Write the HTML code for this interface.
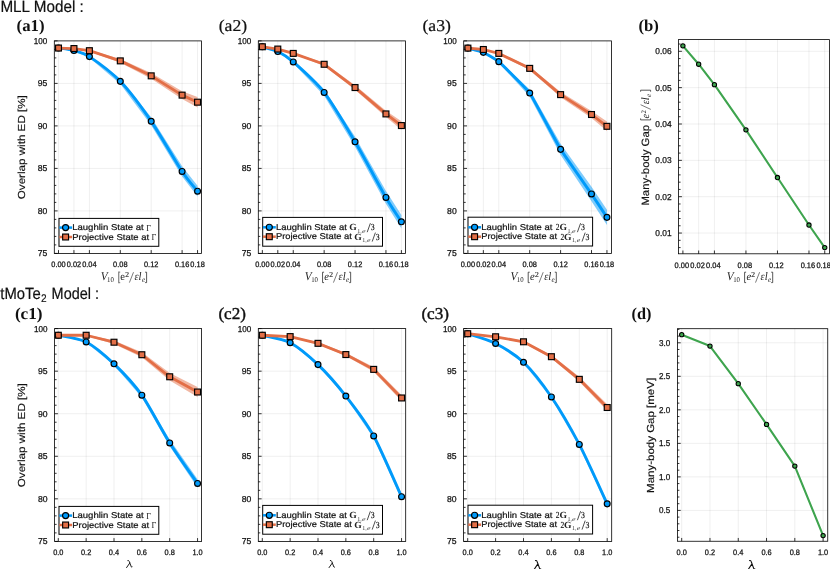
<!DOCTYPE html>
<html><head><meta charset="utf-8"><title>Figure</title>
<style>html,body{margin:0;padding:0;background:#fff}svg{display:block;will-change:transform}text{font-kerning:normal;text-rendering:geometricPrecision}</style></head>
<body>
<svg width="830" height="569" viewBox="0 0 830 569">
<rect width="830" height="569" fill="#fff"/>
<g>
<clipPath id="cpa1"><rect x="54.3" y="40.9" width="147.2" height="212.5"/></clipPath>
<path d="M58.5,40.9 V253.4 M73.95,40.9 V253.4 M89.4,40.9 V253.4 M120.3,40.9 V253.4 M151.2,40.9 V253.4 M182.1,40.9 V253.4 M197.55,40.9 V253.4 M54.3,210.9 H201.5 M54.3,168.4 H201.5 M54.3,125.9 H201.5 M54.3,83.4 H201.5" stroke="#000" stroke-opacity="0.075" stroke-width="0.85" fill="none"/>
<g clip-path="url(#cpa1)">
<polygon points="58.5,48.04 73.95,50.1 89.4,55.6 120.3,78.78 151.2,117.37 182.1,166.36 197.55,185.74 197.55,196.62 182.1,176.56 151.2,125.25 120.3,83.94 89.4,57.65 73.95,50.91 58.5,48.04" fill="#009AFA" fill-opacity="0.5"/>
<path d="M58.5,48.04 C60.56,48.37 69.83,49.36 73.95,50.5 C78.07,51.65 83.22,52.51 89.4,56.62 C95.58,60.74 112.06,72.74 120.3,81.36 C128.54,89.98 142.96,109.3 151.2,121.31 C159.44,133.32 175.92,162.14 182.1,171.46 C188.28,180.78 195.49,188.55 197.55,191.18" fill="none" stroke="#009AFA" stroke-width="2.9" stroke-linejoin="round"/>
<polygon points="58.5,48.04 73.95,48.13 89.4,49.83 120.3,59 151.2,73.03 182.1,91.22 197.55,96.91 197.55,107.45 182.1,99.04 151.2,78.64 120.3,62.74 89.4,51.53 73.95,48.98 58.5,48.04" fill="#E36F47" fill-opacity="0.5"/>
<polyline points="58.5,48.04 73.95,48.55 89.4,50.68 120.3,60.87 151.2,75.84 182.1,95.13 197.55,102.18" fill="none" stroke="#E36F47" stroke-width="2.8" stroke-linejoin="round" stroke-linecap="butt"/>
</g>
<g clip-path="url(#cpa1)">
<circle cx="58.5" cy="48.04" r="2.95" fill="#009AFA" stroke="#000" stroke-width="1.15"/>
<circle cx="73.95" cy="50.5" r="2.95" fill="#009AFA" stroke="#000" stroke-width="1.15"/>
<circle cx="89.4" cy="56.62" r="2.95" fill="#009AFA" stroke="#000" stroke-width="1.15"/>
<circle cx="120.3" cy="81.36" r="2.95" fill="#009AFA" stroke="#000" stroke-width="1.15"/>
<circle cx="151.2" cy="121.31" r="2.95" fill="#009AFA" stroke="#000" stroke-width="1.15"/>
<circle cx="182.1" cy="171.46" r="2.95" fill="#009AFA" stroke="#000" stroke-width="1.15"/>
<circle cx="197.55" cy="191.18" r="2.95" fill="#009AFA" stroke="#000" stroke-width="1.15"/>
<rect x="55.55" y="45.09" width="5.9" height="5.9" fill="#E36F47" stroke="#000" stroke-width="1.15"/>
<rect x="71" y="45.6" width="5.9" height="5.9" fill="#E36F47" stroke="#000" stroke-width="1.15"/>
<rect x="86.45" y="47.73" width="5.9" height="5.9" fill="#E36F47" stroke="#000" stroke-width="1.15"/>
<rect x="117.35" y="57.92" width="5.9" height="5.9" fill="#E36F47" stroke="#000" stroke-width="1.15"/>
<rect x="148.25" y="72.89" width="5.9" height="5.9" fill="#E36F47" stroke="#000" stroke-width="1.15"/>
<rect x="179.15" y="92.18" width="5.9" height="5.9" fill="#E36F47" stroke="#000" stroke-width="1.15"/>
<rect x="194.6" y="99.23" width="5.9" height="5.9" fill="#E36F47" stroke="#000" stroke-width="1.15"/>
</g>
<path d="M58.5,253.4 V250.1 M73.95,253.4 V250.1 M89.4,253.4 V250.1 M120.3,253.4 V250.1 M151.2,253.4 V250.1 M182.1,253.4 V250.1 M197.55,253.4 V250.1 M54.3,253.4 H57.6 M54.3,210.9 H57.6 M54.3,168.4 H57.6 M54.3,125.9 H57.6 M54.3,83.4 H57.6 M54.3,40.9 H57.6 M54.3,244.9 H56.3 M54.3,236.4 H56.3 M54.3,227.9 H56.3 M54.3,219.4 H56.3 M54.3,202.4 H56.3 M54.3,193.9 H56.3 M54.3,185.4 H56.3 M54.3,176.9 H56.3 M54.3,159.9 H56.3 M54.3,151.4 H56.3 M54.3,142.9 H56.3 M54.3,134.4 H56.3 M54.3,117.4 H56.3 M54.3,108.9 H56.3 M54.3,100.4 H56.3 M54.3,91.9 H56.3 M54.3,74.9 H56.3 M54.3,66.4 H56.3 M54.3,57.9 H56.3 M54.3,49.4 H56.3" stroke="#000" stroke-width="0.8" fill="none"/>
<rect x="54.3" y="40.9" width="147.2" height="212.5" fill="none" stroke="#000" stroke-width="0.8"/>
<text x="58.5" y="267.4" font-family="Liberation Sans, sans-serif" font-size="7.9" text-anchor="middle" textLength="14.4" lengthAdjust="spacingAndGlyphs" fill="#111" stroke="#111" stroke-width="0.25">0.00</text>
<text x="73.95" y="267.4" font-family="Liberation Sans, sans-serif" font-size="7.9" text-anchor="middle" textLength="14.4" lengthAdjust="spacingAndGlyphs" fill="#111" stroke="#111" stroke-width="0.25">0.02</text>
<text x="89.4" y="267.4" font-family="Liberation Sans, sans-serif" font-size="7.9" text-anchor="middle" textLength="14.4" lengthAdjust="spacingAndGlyphs" fill="#111" stroke="#111" stroke-width="0.25">0.04</text>
<text x="120.3" y="267.4" font-family="Liberation Sans, sans-serif" font-size="7.9" text-anchor="middle" textLength="14.4" lengthAdjust="spacingAndGlyphs" fill="#111" stroke="#111" stroke-width="0.25">0.08</text>
<text x="151.2" y="267.4" font-family="Liberation Sans, sans-serif" font-size="7.9" text-anchor="middle" textLength="14.4" lengthAdjust="spacingAndGlyphs" fill="#111" stroke="#111" stroke-width="0.25">0.12</text>
<text x="182.1" y="267.4" font-family="Liberation Sans, sans-serif" font-size="7.9" text-anchor="middle" textLength="14.4" lengthAdjust="spacingAndGlyphs" fill="#111" stroke="#111" stroke-width="0.25">0.16</text>
<text x="197.55" y="267.4" font-family="Liberation Sans, sans-serif" font-size="7.9" text-anchor="middle" textLength="14.4" lengthAdjust="spacingAndGlyphs" fill="#111" stroke="#111" stroke-width="0.25">0.18</text>
<text x="47.3" y="256.3" font-family="Liberation Sans, sans-serif" font-size="8.6" text-anchor="end" textLength="9.6" lengthAdjust="spacingAndGlyphs" fill="#111" stroke="#111" stroke-width="0.25">75</text>
<text x="47.3" y="213.8" font-family="Liberation Sans, sans-serif" font-size="8.6" text-anchor="end" textLength="9.6" lengthAdjust="spacingAndGlyphs" fill="#111" stroke="#111" stroke-width="0.25">80</text>
<text x="47.3" y="171.3" font-family="Liberation Sans, sans-serif" font-size="8.6" text-anchor="end" textLength="9.6" lengthAdjust="spacingAndGlyphs" fill="#111" stroke="#111" stroke-width="0.25">85</text>
<text x="47.3" y="128.8" font-family="Liberation Sans, sans-serif" font-size="8.6" text-anchor="end" textLength="9.6" lengthAdjust="spacingAndGlyphs" fill="#111" stroke="#111" stroke-width="0.25">90</text>
<text x="47.3" y="86.3" font-family="Liberation Sans, sans-serif" font-size="8.6" text-anchor="end" textLength="9.6" lengthAdjust="spacingAndGlyphs" fill="#111" stroke="#111" stroke-width="0.25">95</text>
<text x="47.3" y="43.8" font-family="Liberation Sans, sans-serif" font-size="8.6" text-anchor="end" textLength="13.5" lengthAdjust="spacingAndGlyphs" fill="#111" stroke="#111" stroke-width="0.25">100</text>
</g>
<g>
<clipPath id="cpa2"><rect x="258.3" y="40.9" width="147.3" height="212.5"/></clipPath>
<path d="M262.35,40.9 V253.4 M277.8,40.9 V253.4 M293.25,40.9 V253.4 M324.15,40.9 V253.4 M355.05,40.9 V253.4 M385.95,40.9 V253.4 M401.4,40.9 V253.4 M258.3,210.9 H405.6 M258.3,168.4 H405.6 M258.3,125.9 H405.6 M258.3,83.4 H405.6" stroke="#000" stroke-opacity="0.075" stroke-width="0.85" fill="none"/>
<g clip-path="url(#cpa2)">
<polygon points="262.35,46.76 277.8,51.01 293.25,60.62 324.15,89.18 355.05,136.87 385.95,191.1 401.4,214.98 401.4,228.58 385.95,203.85 355.05,146.73 324.15,95.64 293.25,63.17 277.8,52.04 262.35,46.76" fill="#009AFA" fill-opacity="0.5"/>
<path d="M262.35,46.76 C264.41,47.4 273.68,49.51 277.8,51.53 C281.92,53.54 287.07,56.44 293.25,61.9 C299.43,67.35 315.91,81.76 324.15,92.41 C332.39,103.06 346.81,127.79 355.05,141.8 C363.29,155.8 379.77,186.81 385.95,197.47 C392.13,208.13 399.34,218.54 401.4,221.78" fill="none" stroke="#009AFA" stroke-width="2.9" stroke-linejoin="round"/>
<polygon points="262.35,46.76 277.8,48.72 293.25,52.72 324.15,62.78 355.05,85.32 385.95,110.79 401.4,121.34 401.4,129.78 385.95,117.04 355.05,89.81 324.15,65.77 293.25,54.07 277.8,49.4 262.35,46.76" fill="#E36F47" fill-opacity="0.5"/>
<polyline points="262.35,46.76 277.8,49.06 293.25,53.4 324.15,64.28 355.05,87.56 385.95,113.92 401.4,125.56" fill="none" stroke="#E36F47" stroke-width="2.8" stroke-linejoin="round" stroke-linecap="butt"/>
</g>
<g clip-path="url(#cpa2)">
<circle cx="262.35" cy="46.76" r="2.95" fill="#009AFA" stroke="#000" stroke-width="1.15"/>
<circle cx="277.8" cy="51.53" r="2.95" fill="#009AFA" stroke="#000" stroke-width="1.15"/>
<circle cx="293.25" cy="61.9" r="2.95" fill="#009AFA" stroke="#000" stroke-width="1.15"/>
<circle cx="324.15" cy="92.41" r="2.95" fill="#009AFA" stroke="#000" stroke-width="1.15"/>
<circle cx="355.05" cy="141.8" r="2.95" fill="#009AFA" stroke="#000" stroke-width="1.15"/>
<circle cx="385.95" cy="197.47" r="2.95" fill="#009AFA" stroke="#000" stroke-width="1.15"/>
<circle cx="401.4" cy="221.78" r="2.95" fill="#009AFA" stroke="#000" stroke-width="1.15"/>
<rect x="259.4" y="43.81" width="5.9" height="5.9" fill="#E36F47" stroke="#000" stroke-width="1.15"/>
<rect x="274.85" y="46.11" width="5.9" height="5.9" fill="#E36F47" stroke="#000" stroke-width="1.15"/>
<rect x="290.3" y="50.45" width="5.9" height="5.9" fill="#E36F47" stroke="#000" stroke-width="1.15"/>
<rect x="321.2" y="61.33" width="5.9" height="5.9" fill="#E36F47" stroke="#000" stroke-width="1.15"/>
<rect x="352.1" y="84.61" width="5.9" height="5.9" fill="#E36F47" stroke="#000" stroke-width="1.15"/>
<rect x="383" y="110.97" width="5.9" height="5.9" fill="#E36F47" stroke="#000" stroke-width="1.15"/>
<rect x="398.45" y="122.61" width="5.9" height="5.9" fill="#E36F47" stroke="#000" stroke-width="1.15"/>
</g>
<path d="M262.35,253.4 V250.1 M277.8,253.4 V250.1 M293.25,253.4 V250.1 M324.15,253.4 V250.1 M355.05,253.4 V250.1 M385.95,253.4 V250.1 M401.4,253.4 V250.1 M258.3,253.4 H261.6 M258.3,210.9 H261.6 M258.3,168.4 H261.6 M258.3,125.9 H261.6 M258.3,83.4 H261.6 M258.3,40.9 H261.6 M258.3,244.9 H260.3 M258.3,236.4 H260.3 M258.3,227.9 H260.3 M258.3,219.4 H260.3 M258.3,202.4 H260.3 M258.3,193.9 H260.3 M258.3,185.4 H260.3 M258.3,176.9 H260.3 M258.3,159.9 H260.3 M258.3,151.4 H260.3 M258.3,142.9 H260.3 M258.3,134.4 H260.3 M258.3,117.4 H260.3 M258.3,108.9 H260.3 M258.3,100.4 H260.3 M258.3,91.9 H260.3 M258.3,74.9 H260.3 M258.3,66.4 H260.3 M258.3,57.9 H260.3 M258.3,49.4 H260.3" stroke="#000" stroke-width="0.8" fill="none"/>
<rect x="258.3" y="40.9" width="147.3" height="212.5" fill="none" stroke="#000" stroke-width="0.8"/>
<text x="262.35" y="267.4" font-family="Liberation Sans, sans-serif" font-size="7.9" text-anchor="middle" textLength="14.4" lengthAdjust="spacingAndGlyphs" fill="#111" stroke="#111" stroke-width="0.25">0.00</text>
<text x="277.8" y="267.4" font-family="Liberation Sans, sans-serif" font-size="7.9" text-anchor="middle" textLength="14.4" lengthAdjust="spacingAndGlyphs" fill="#111" stroke="#111" stroke-width="0.25">0.02</text>
<text x="293.25" y="267.4" font-family="Liberation Sans, sans-serif" font-size="7.9" text-anchor="middle" textLength="14.4" lengthAdjust="spacingAndGlyphs" fill="#111" stroke="#111" stroke-width="0.25">0.04</text>
<text x="324.15" y="267.4" font-family="Liberation Sans, sans-serif" font-size="7.9" text-anchor="middle" textLength="14.4" lengthAdjust="spacingAndGlyphs" fill="#111" stroke="#111" stroke-width="0.25">0.08</text>
<text x="355.05" y="267.4" font-family="Liberation Sans, sans-serif" font-size="7.9" text-anchor="middle" textLength="14.4" lengthAdjust="spacingAndGlyphs" fill="#111" stroke="#111" stroke-width="0.25">0.12</text>
<text x="385.95" y="267.4" font-family="Liberation Sans, sans-serif" font-size="7.9" text-anchor="middle" textLength="14.4" lengthAdjust="spacingAndGlyphs" fill="#111" stroke="#111" stroke-width="0.25">0.16</text>
<text x="401.4" y="267.4" font-family="Liberation Sans, sans-serif" font-size="7.9" text-anchor="middle" textLength="14.4" lengthAdjust="spacingAndGlyphs" fill="#111" stroke="#111" stroke-width="0.25">0.18</text>
<text x="251.3" y="256.3" font-family="Liberation Sans, sans-serif" font-size="8.6" text-anchor="end" textLength="9.6" lengthAdjust="spacingAndGlyphs" fill="#111" stroke="#111" stroke-width="0.25">75</text>
<text x="251.3" y="213.8" font-family="Liberation Sans, sans-serif" font-size="8.6" text-anchor="end" textLength="9.6" lengthAdjust="spacingAndGlyphs" fill="#111" stroke="#111" stroke-width="0.25">80</text>
<text x="251.3" y="171.3" font-family="Liberation Sans, sans-serif" font-size="8.6" text-anchor="end" textLength="9.6" lengthAdjust="spacingAndGlyphs" fill="#111" stroke="#111" stroke-width="0.25">85</text>
<text x="251.3" y="128.8" font-family="Liberation Sans, sans-serif" font-size="8.6" text-anchor="end" textLength="9.6" lengthAdjust="spacingAndGlyphs" fill="#111" stroke="#111" stroke-width="0.25">90</text>
<text x="251.3" y="86.3" font-family="Liberation Sans, sans-serif" font-size="8.6" text-anchor="end" textLength="9.6" lengthAdjust="spacingAndGlyphs" fill="#111" stroke="#111" stroke-width="0.25">95</text>
<text x="251.3" y="43.8" font-family="Liberation Sans, sans-serif" font-size="8.6" text-anchor="end" textLength="13.5" lengthAdjust="spacingAndGlyphs" fill="#111" stroke="#111" stroke-width="0.25">100</text>
</g>
<g>
<clipPath id="cpa3"><rect x="463.7" y="40.9" width="147.8" height="212.5"/></clipPath>
<path d="M467.9,40.9 V253.4 M483.35,40.9 V253.4 M498.8,40.9 V253.4 M529.7,40.9 V253.4 M560.6,40.9 V253.4 M591.5,40.9 V253.4 M606.95,40.9 V253.4 M463.7,210.9 H611.5 M463.7,168.4 H611.5 M463.7,125.9 H611.5 M463.7,83.4 H611.5" stroke="#000" stroke-opacity="0.075" stroke-width="0.85" fill="none"/>
<g clip-path="url(#cpa3)">
<polygon points="467.9,48.12 483.35,51.8 498.8,60.21 529.7,89.39 560.6,143.84 591.5,186.85 606.95,209.74 606.95,224.98 591.5,201.13 560.6,154.88 529.7,96.62 498.8,63.07 483.35,52.95 467.9,48.12" fill="#009AFA" fill-opacity="0.5"/>
<path d="M467.9,48.12 C468.67,48.34 481.8,51.7 483.35,52.37 C484.89,53.05 496.48,59.61 498.8,61.64 C501.12,63.67 526.61,88.62 529.7,93 C532.79,97.39 557.51,144.31 560.6,149.36 C563.69,154.41 589.18,190.59 591.5,193.99 C593.82,197.39 606.18,216.19 606.95,217.36" fill="none" stroke="#009AFA" stroke-width="2.9" stroke-linejoin="round"/>
<polygon points="467.9,48.12 483.35,49.1 498.8,52.63 529.7,66.67 560.6,92.1 591.5,110.99 606.95,121.58 606.95,131.07 591.5,118.03 560.6,97.14 529.7,70.04 498.8,54.16 483.35,49.87 467.9,48.12" fill="#E36F47" fill-opacity="0.5"/>
<polyline points="467.9,48.12 483.35,49.49 498.8,53.4 529.7,68.36 560.6,94.62 591.5,114.51 606.95,126.32" fill="none" stroke="#E36F47" stroke-width="2.8" stroke-linejoin="round" stroke-linecap="butt"/>
</g>
<g clip-path="url(#cpa3)">
<circle cx="467.9" cy="48.12" r="2.95" fill="#009AFA" stroke="#000" stroke-width="1.15"/>
<circle cx="483.35" cy="52.37" r="2.95" fill="#009AFA" stroke="#000" stroke-width="1.15"/>
<circle cx="498.8" cy="61.64" r="2.95" fill="#009AFA" stroke="#000" stroke-width="1.15"/>
<circle cx="529.7" cy="93" r="2.95" fill="#009AFA" stroke="#000" stroke-width="1.15"/>
<circle cx="560.6" cy="149.36" r="2.95" fill="#009AFA" stroke="#000" stroke-width="1.15"/>
<circle cx="591.5" cy="193.99" r="2.95" fill="#009AFA" stroke="#000" stroke-width="1.15"/>
<circle cx="606.95" cy="217.36" r="2.95" fill="#009AFA" stroke="#000" stroke-width="1.15"/>
<rect x="464.95" y="45.17" width="5.9" height="5.9" fill="#E36F47" stroke="#000" stroke-width="1.15"/>
<rect x="480.4" y="46.54" width="5.9" height="5.9" fill="#E36F47" stroke="#000" stroke-width="1.15"/>
<rect x="495.85" y="50.45" width="5.9" height="5.9" fill="#E36F47" stroke="#000" stroke-width="1.15"/>
<rect x="526.75" y="65.41" width="5.9" height="5.9" fill="#E36F47" stroke="#000" stroke-width="1.15"/>
<rect x="557.65" y="91.67" width="5.9" height="5.9" fill="#E36F47" stroke="#000" stroke-width="1.15"/>
<rect x="588.55" y="111.56" width="5.9" height="5.9" fill="#E36F47" stroke="#000" stroke-width="1.15"/>
<rect x="604" y="123.37" width="5.9" height="5.9" fill="#E36F47" stroke="#000" stroke-width="1.15"/>
</g>
<path d="M467.9,253.4 V250.1 M483.35,253.4 V250.1 M498.8,253.4 V250.1 M529.7,253.4 V250.1 M560.6,253.4 V250.1 M591.5,253.4 V250.1 M606.95,253.4 V250.1 M463.7,253.4 H467 M463.7,210.9 H467 M463.7,168.4 H467 M463.7,125.9 H467 M463.7,83.4 H467 M463.7,40.9 H467 M463.7,244.9 H465.7 M463.7,236.4 H465.7 M463.7,227.9 H465.7 M463.7,219.4 H465.7 M463.7,202.4 H465.7 M463.7,193.9 H465.7 M463.7,185.4 H465.7 M463.7,176.9 H465.7 M463.7,159.9 H465.7 M463.7,151.4 H465.7 M463.7,142.9 H465.7 M463.7,134.4 H465.7 M463.7,117.4 H465.7 M463.7,108.9 H465.7 M463.7,100.4 H465.7 M463.7,91.9 H465.7 M463.7,74.9 H465.7 M463.7,66.4 H465.7 M463.7,57.9 H465.7 M463.7,49.4 H465.7" stroke="#000" stroke-width="0.8" fill="none"/>
<rect x="463.7" y="40.9" width="147.8" height="212.5" fill="none" stroke="#000" stroke-width="0.8"/>
<text x="467.9" y="267.4" font-family="Liberation Sans, sans-serif" font-size="7.9" text-anchor="middle" textLength="14.4" lengthAdjust="spacingAndGlyphs" fill="#111" stroke="#111" stroke-width="0.25">0.00</text>
<text x="483.35" y="267.4" font-family="Liberation Sans, sans-serif" font-size="7.9" text-anchor="middle" textLength="14.4" lengthAdjust="spacingAndGlyphs" fill="#111" stroke="#111" stroke-width="0.25">0.02</text>
<text x="498.8" y="267.4" font-family="Liberation Sans, sans-serif" font-size="7.9" text-anchor="middle" textLength="14.4" lengthAdjust="spacingAndGlyphs" fill="#111" stroke="#111" stroke-width="0.25">0.04</text>
<text x="529.7" y="267.4" font-family="Liberation Sans, sans-serif" font-size="7.9" text-anchor="middle" textLength="14.4" lengthAdjust="spacingAndGlyphs" fill="#111" stroke="#111" stroke-width="0.25">0.08</text>
<text x="560.6" y="267.4" font-family="Liberation Sans, sans-serif" font-size="7.9" text-anchor="middle" textLength="14.4" lengthAdjust="spacingAndGlyphs" fill="#111" stroke="#111" stroke-width="0.25">0.12</text>
<text x="591.5" y="267.4" font-family="Liberation Sans, sans-serif" font-size="7.9" text-anchor="middle" textLength="14.4" lengthAdjust="spacingAndGlyphs" fill="#111" stroke="#111" stroke-width="0.25">0.16</text>
<text x="606.95" y="267.4" font-family="Liberation Sans, sans-serif" font-size="7.9" text-anchor="middle" textLength="14.4" lengthAdjust="spacingAndGlyphs" fill="#111" stroke="#111" stroke-width="0.25">0.18</text>
<text x="456.7" y="256.3" font-family="Liberation Sans, sans-serif" font-size="8.6" text-anchor="end" textLength="9.6" lengthAdjust="spacingAndGlyphs" fill="#111" stroke="#111" stroke-width="0.25">75</text>
<text x="456.7" y="213.8" font-family="Liberation Sans, sans-serif" font-size="8.6" text-anchor="end" textLength="9.6" lengthAdjust="spacingAndGlyphs" fill="#111" stroke="#111" stroke-width="0.25">80</text>
<text x="456.7" y="171.3" font-family="Liberation Sans, sans-serif" font-size="8.6" text-anchor="end" textLength="9.6" lengthAdjust="spacingAndGlyphs" fill="#111" stroke="#111" stroke-width="0.25">85</text>
<text x="456.7" y="128.8" font-family="Liberation Sans, sans-serif" font-size="8.6" text-anchor="end" textLength="9.6" lengthAdjust="spacingAndGlyphs" fill="#111" stroke="#111" stroke-width="0.25">90</text>
<text x="456.7" y="86.3" font-family="Liberation Sans, sans-serif" font-size="8.6" text-anchor="end" textLength="9.6" lengthAdjust="spacingAndGlyphs" fill="#111" stroke="#111" stroke-width="0.25">95</text>
<text x="456.7" y="43.8" font-family="Liberation Sans, sans-serif" font-size="8.6" text-anchor="end" textLength="13.5" lengthAdjust="spacingAndGlyphs" fill="#111" stroke="#111" stroke-width="0.25">100</text>
</g>
<g>
<clipPath id="cpc1"><rect x="54.6" y="328.6" width="147" height="212.8"/></clipPath>
<path d="M58.3,328.6 V541.4 M86.15,328.6 V541.4 M114,328.6 V541.4 M141.85,328.6 V541.4 M169.7,328.6 V541.4 M197.55,328.6 V541.4 M54.6,498.84 H201.6 M54.6,456.28 H201.6 M54.6,413.72 H201.6 M54.6,371.16 H201.6" stroke="#000" stroke-opacity="0.075" stroke-width="0.85" fill="none"/>
<g clip-path="url(#cpc1)">
<polygon points="58.3,335.24 86.15,341.5 114,362.46 141.85,392.87 169.7,439.47 197.55,479.22 197.55,487.65 169.7,446.36 141.85,397.46 114,365.22 86.15,342.42 58.3,335.24" fill="#009AFA" fill-opacity="0.5"/>
<path d="M58.3,335.24 C62.01,336.14 78.72,338.15 86.15,341.96 C93.58,345.78 106.57,356.75 114,363.84 C121.43,370.93 134.42,384.62 141.85,395.16 C149.28,405.71 162.27,431.15 169.7,442.92 C177.13,454.69 193.84,478.03 197.55,483.43" fill="none" stroke="#009AFA" stroke-width="2.9" stroke-linejoin="round"/>
<polygon points="58.3,335.24 86.15,334.56 114,340.52 141.85,352.18 169.7,372.95 197.55,386.91 197.55,397.12 169.7,380.61 141.85,357.29 114,343.92 86.15,335.92 58.3,335.24" fill="#E36F47" fill-opacity="0.5"/>
<polyline points="58.3,335.24 86.15,335.24 114,342.22 141.85,354.73 169.7,376.78 197.55,392.01" fill="none" stroke="#E36F47" stroke-width="2.8" stroke-linejoin="round" stroke-linecap="butt"/>
</g>
<g clip-path="url(#cpc1)">
<circle cx="58.3" cy="335.24" r="2.95" fill="#009AFA" stroke="#000" stroke-width="1.15"/>
<circle cx="86.15" cy="341.96" r="2.95" fill="#009AFA" stroke="#000" stroke-width="1.15"/>
<circle cx="114" cy="363.84" r="2.95" fill="#009AFA" stroke="#000" stroke-width="1.15"/>
<circle cx="141.85" cy="395.16" r="2.95" fill="#009AFA" stroke="#000" stroke-width="1.15"/>
<circle cx="169.7" cy="442.92" r="2.95" fill="#009AFA" stroke="#000" stroke-width="1.15"/>
<circle cx="197.55" cy="483.43" r="2.95" fill="#009AFA" stroke="#000" stroke-width="1.15"/>
<rect x="55.35" y="332.29" width="5.9" height="5.9" fill="#E36F47" stroke="#000" stroke-width="1.15"/>
<rect x="83.2" y="332.29" width="5.9" height="5.9" fill="#E36F47" stroke="#000" stroke-width="1.15"/>
<rect x="111.05" y="339.27" width="5.9" height="5.9" fill="#E36F47" stroke="#000" stroke-width="1.15"/>
<rect x="138.9" y="351.78" width="5.9" height="5.9" fill="#E36F47" stroke="#000" stroke-width="1.15"/>
<rect x="166.75" y="373.83" width="5.9" height="5.9" fill="#E36F47" stroke="#000" stroke-width="1.15"/>
<rect x="194.6" y="389.06" width="5.9" height="5.9" fill="#E36F47" stroke="#000" stroke-width="1.15"/>
</g>
<path d="M58.3,541.4 V538.1 M86.15,541.4 V538.1 M114,541.4 V538.1 M141.85,541.4 V538.1 M169.7,541.4 V538.1 M197.55,541.4 V538.1 M54.6,541.4 H57.9 M54.6,498.84 H57.9 M54.6,456.28 H57.9 M54.6,413.72 H57.9 M54.6,371.16 H57.9 M54.6,328.6 H57.9 M54.6,532.89 H56.6 M54.6,524.38 H56.6 M54.6,515.86 H56.6 M54.6,507.35 H56.6 M54.6,490.33 H56.6 M54.6,481.82 H56.6 M54.6,473.3 H56.6 M54.6,464.79 H56.6 M54.6,447.77 H56.6 M54.6,439.26 H56.6 M54.6,430.74 H56.6 M54.6,422.23 H56.6 M54.6,405.21 H56.6 M54.6,396.7 H56.6 M54.6,388.18 H56.6 M54.6,379.67 H56.6 M54.6,362.65 H56.6 M54.6,354.14 H56.6 M54.6,345.62 H56.6 M54.6,337.11 H56.6" stroke="#000" stroke-width="0.8" fill="none"/>
<rect x="54.6" y="328.6" width="147" height="212.8" fill="none" stroke="#000" stroke-width="0.8"/>
<text x="58.3" y="555.4" font-family="Liberation Sans, sans-serif" font-size="7.9" text-anchor="middle" textLength="10.3" lengthAdjust="spacingAndGlyphs" fill="#111" stroke="#111" stroke-width="0.25">0.0</text>
<text x="86.15" y="555.4" font-family="Liberation Sans, sans-serif" font-size="7.9" text-anchor="middle" textLength="10.3" lengthAdjust="spacingAndGlyphs" fill="#111" stroke="#111" stroke-width="0.25">0.2</text>
<text x="114" y="555.4" font-family="Liberation Sans, sans-serif" font-size="7.9" text-anchor="middle" textLength="10.3" lengthAdjust="spacingAndGlyphs" fill="#111" stroke="#111" stroke-width="0.25">0.4</text>
<text x="141.85" y="555.4" font-family="Liberation Sans, sans-serif" font-size="7.9" text-anchor="middle" textLength="10.3" lengthAdjust="spacingAndGlyphs" fill="#111" stroke="#111" stroke-width="0.25">0.6</text>
<text x="169.7" y="555.4" font-family="Liberation Sans, sans-serif" font-size="7.9" text-anchor="middle" textLength="10.3" lengthAdjust="spacingAndGlyphs" fill="#111" stroke="#111" stroke-width="0.25">0.8</text>
<text x="197.55" y="555.4" font-family="Liberation Sans, sans-serif" font-size="7.9" text-anchor="middle" textLength="10.3" lengthAdjust="spacingAndGlyphs" fill="#111" stroke="#111" stroke-width="0.25">1.0</text>
<text x="47.6" y="544.3" font-family="Liberation Sans, sans-serif" font-size="8.6" text-anchor="end" textLength="9.6" lengthAdjust="spacingAndGlyphs" fill="#111" stroke="#111" stroke-width="0.25">75</text>
<text x="47.6" y="501.74" font-family="Liberation Sans, sans-serif" font-size="8.6" text-anchor="end" textLength="9.6" lengthAdjust="spacingAndGlyphs" fill="#111" stroke="#111" stroke-width="0.25">80</text>
<text x="47.6" y="459.18" font-family="Liberation Sans, sans-serif" font-size="8.6" text-anchor="end" textLength="9.6" lengthAdjust="spacingAndGlyphs" fill="#111" stroke="#111" stroke-width="0.25">85</text>
<text x="47.6" y="416.62" font-family="Liberation Sans, sans-serif" font-size="8.6" text-anchor="end" textLength="9.6" lengthAdjust="spacingAndGlyphs" fill="#111" stroke="#111" stroke-width="0.25">90</text>
<text x="47.6" y="374.06" font-family="Liberation Sans, sans-serif" font-size="8.6" text-anchor="end" textLength="9.6" lengthAdjust="spacingAndGlyphs" fill="#111" stroke="#111" stroke-width="0.25">95</text>
<text x="47.6" y="331.5" font-family="Liberation Sans, sans-serif" font-size="8.6" text-anchor="end" textLength="13.5" lengthAdjust="spacingAndGlyphs" fill="#111" stroke="#111" stroke-width="0.25">100</text>
</g>
<g>
<clipPath id="cpc2"><rect x="258.3" y="328.6" width="147.4" height="212.8"/></clipPath>
<path d="M262.3,328.6 V541.4 M290.15,328.6 V541.4 M318,328.6 V541.4 M345.85,328.6 V541.4 M373.7,328.6 V541.4 M401.55,328.6 V541.4 M258.3,498.84 H405.7 M258.3,456.28 H405.7 M258.3,413.72 H405.7 M258.3,371.16 H405.7" stroke="#000" stroke-opacity="0.075" stroke-width="0.85" fill="none"/>
<g clip-path="url(#cpc2)">
<polygon points="262.3,335.24 290.15,342.42 318,363.69 345.85,394.48 373.7,433.64 401.55,493.9 401.55,499.52 373.7,438.23 345.85,397.55 318,365.53 290.15,343.04 262.3,335.24" fill="#009AFA" fill-opacity="0.5"/>
<path d="M262.3,335.24 C266.01,336.24 282.72,338.81 290.15,342.73 C297.58,346.65 310.57,357.5 318,364.61 C325.43,371.71 338.42,386.5 345.85,396.02 C353.28,405.53 366.27,422.51 373.7,435.94 C381.13,449.36 397.84,488.61 401.55,496.71" fill="none" stroke="#009AFA" stroke-width="2.9" stroke-linejoin="round"/>
<polygon points="262.3,335.24 290.15,336.19 318,342.3 345.85,353.03 373.7,367.07 401.55,394.91 401.55,401.04 373.7,371.67 345.85,356.09 318,344.35 290.15,337.01 262.3,335.24" fill="#E36F47" fill-opacity="0.5"/>
<polyline points="262.3,335.24 290.15,336.6 318,343.33 345.85,354.56 373.7,369.37 401.55,397.97" fill="none" stroke="#E36F47" stroke-width="2.8" stroke-linejoin="round" stroke-linecap="butt"/>
</g>
<g clip-path="url(#cpc2)">
<circle cx="262.3" cy="335.24" r="2.95" fill="#009AFA" stroke="#000" stroke-width="1.15"/>
<circle cx="290.15" cy="342.73" r="2.95" fill="#009AFA" stroke="#000" stroke-width="1.15"/>
<circle cx="318" cy="364.61" r="2.95" fill="#009AFA" stroke="#000" stroke-width="1.15"/>
<circle cx="345.85" cy="396.02" r="2.95" fill="#009AFA" stroke="#000" stroke-width="1.15"/>
<circle cx="373.7" cy="435.94" r="2.95" fill="#009AFA" stroke="#000" stroke-width="1.15"/>
<circle cx="401.55" cy="496.71" r="2.95" fill="#009AFA" stroke="#000" stroke-width="1.15"/>
<rect x="259.35" y="332.29" width="5.9" height="5.9" fill="#E36F47" stroke="#000" stroke-width="1.15"/>
<rect x="287.2" y="333.65" width="5.9" height="5.9" fill="#E36F47" stroke="#000" stroke-width="1.15"/>
<rect x="315.05" y="340.38" width="5.9" height="5.9" fill="#E36F47" stroke="#000" stroke-width="1.15"/>
<rect x="342.9" y="351.61" width="5.9" height="5.9" fill="#E36F47" stroke="#000" stroke-width="1.15"/>
<rect x="370.75" y="366.42" width="5.9" height="5.9" fill="#E36F47" stroke="#000" stroke-width="1.15"/>
<rect x="398.6" y="395.02" width="5.9" height="5.9" fill="#E36F47" stroke="#000" stroke-width="1.15"/>
</g>
<path d="M262.3,541.4 V538.1 M290.15,541.4 V538.1 M318,541.4 V538.1 M345.85,541.4 V538.1 M373.7,541.4 V538.1 M401.55,541.4 V538.1 M258.3,541.4 H261.6 M258.3,498.84 H261.6 M258.3,456.28 H261.6 M258.3,413.72 H261.6 M258.3,371.16 H261.6 M258.3,328.6 H261.6 M258.3,532.89 H260.3 M258.3,524.38 H260.3 M258.3,515.86 H260.3 M258.3,507.35 H260.3 M258.3,490.33 H260.3 M258.3,481.82 H260.3 M258.3,473.3 H260.3 M258.3,464.79 H260.3 M258.3,447.77 H260.3 M258.3,439.26 H260.3 M258.3,430.74 H260.3 M258.3,422.23 H260.3 M258.3,405.21 H260.3 M258.3,396.7 H260.3 M258.3,388.18 H260.3 M258.3,379.67 H260.3 M258.3,362.65 H260.3 M258.3,354.14 H260.3 M258.3,345.62 H260.3 M258.3,337.11 H260.3" stroke="#000" stroke-width="0.8" fill="none"/>
<rect x="258.3" y="328.6" width="147.4" height="212.8" fill="none" stroke="#000" stroke-width="0.8"/>
<text x="262.3" y="555.4" font-family="Liberation Sans, sans-serif" font-size="7.9" text-anchor="middle" textLength="10.3" lengthAdjust="spacingAndGlyphs" fill="#111" stroke="#111" stroke-width="0.25">0.0</text>
<text x="290.15" y="555.4" font-family="Liberation Sans, sans-serif" font-size="7.9" text-anchor="middle" textLength="10.3" lengthAdjust="spacingAndGlyphs" fill="#111" stroke="#111" stroke-width="0.25">0.2</text>
<text x="318" y="555.4" font-family="Liberation Sans, sans-serif" font-size="7.9" text-anchor="middle" textLength="10.3" lengthAdjust="spacingAndGlyphs" fill="#111" stroke="#111" stroke-width="0.25">0.4</text>
<text x="345.85" y="555.4" font-family="Liberation Sans, sans-serif" font-size="7.9" text-anchor="middle" textLength="10.3" lengthAdjust="spacingAndGlyphs" fill="#111" stroke="#111" stroke-width="0.25">0.6</text>
<text x="373.7" y="555.4" font-family="Liberation Sans, sans-serif" font-size="7.9" text-anchor="middle" textLength="10.3" lengthAdjust="spacingAndGlyphs" fill="#111" stroke="#111" stroke-width="0.25">0.8</text>
<text x="401.55" y="555.4" font-family="Liberation Sans, sans-serif" font-size="7.9" text-anchor="middle" textLength="10.3" lengthAdjust="spacingAndGlyphs" fill="#111" stroke="#111" stroke-width="0.25">1.0</text>
<text x="251.3" y="544.3" font-family="Liberation Sans, sans-serif" font-size="8.6" text-anchor="end" textLength="9.6" lengthAdjust="spacingAndGlyphs" fill="#111" stroke="#111" stroke-width="0.25">75</text>
<text x="251.3" y="501.74" font-family="Liberation Sans, sans-serif" font-size="8.6" text-anchor="end" textLength="9.6" lengthAdjust="spacingAndGlyphs" fill="#111" stroke="#111" stroke-width="0.25">80</text>
<text x="251.3" y="459.18" font-family="Liberation Sans, sans-serif" font-size="8.6" text-anchor="end" textLength="9.6" lengthAdjust="spacingAndGlyphs" fill="#111" stroke="#111" stroke-width="0.25">85</text>
<text x="251.3" y="416.62" font-family="Liberation Sans, sans-serif" font-size="8.6" text-anchor="end" textLength="9.6" lengthAdjust="spacingAndGlyphs" fill="#111" stroke="#111" stroke-width="0.25">90</text>
<text x="251.3" y="374.06" font-family="Liberation Sans, sans-serif" font-size="8.6" text-anchor="end" textLength="9.6" lengthAdjust="spacingAndGlyphs" fill="#111" stroke="#111" stroke-width="0.25">95</text>
<text x="251.3" y="331.5" font-family="Liberation Sans, sans-serif" font-size="8.6" text-anchor="end" textLength="13.5" lengthAdjust="spacingAndGlyphs" fill="#111" stroke="#111" stroke-width="0.25">100</text>
</g>
<g>
<clipPath id="cpc3"><rect x="463.6" y="328.6" width="148.1" height="212.8"/></clipPath>
<path d="M467.7,328.6 V541.4 M495.6,328.6 V541.4 M523.5,328.6 V541.4 M551.4,328.6 V541.4 M579.3,328.6 V541.4 M607.2,328.6 V541.4 M463.6,498.84 H611.7 M463.6,456.28 H611.7 M463.6,413.72 H611.7 M463.6,371.16 H611.7" stroke="#000" stroke-opacity="0.075" stroke-width="0.85" fill="none"/>
<g clip-path="url(#cpc3)">
<polygon points="467.7,333.71 495.6,343.19 523.5,361.39 551.4,395.42 579.3,442.15 607.2,501.05 607.2,506.67 579.3,446.75 551.4,398.48 523.5,363.23 495.6,343.8 467.7,333.71" fill="#009AFA" fill-opacity="0.5"/>
<path d="M467.7,333.71 C471.42,335.01 488.16,339.68 495.6,343.5 C503.04,347.31 516.06,355.18 523.5,362.31 C530.94,369.43 543.96,386 551.4,396.95 C558.84,407.9 571.86,430.19 579.3,444.45 C586.74,458.7 603.48,495.94 607.2,503.86" fill="none" stroke="#009AFA" stroke-width="2.9" stroke-linejoin="round"/>
<polygon points="467.7,333.71 495.6,336.33 523.5,340.69 551.4,355.03 579.3,376.84 607.2,404.19 607.2,410.83 579.3,381.82 551.4,358.35 523.5,342.9 495.6,337.21 467.7,333.71" fill="#E36F47" fill-opacity="0.5"/>
<polyline points="467.7,333.71 495.6,336.77 523.5,341.79 551.4,356.69 579.3,379.33 607.2,407.51" fill="none" stroke="#E36F47" stroke-width="2.8" stroke-linejoin="round" stroke-linecap="butt"/>
</g>
<g clip-path="url(#cpc3)">
<circle cx="467.7" cy="333.71" r="2.95" fill="#009AFA" stroke="#000" stroke-width="1.15"/>
<circle cx="495.6" cy="343.5" r="2.95" fill="#009AFA" stroke="#000" stroke-width="1.15"/>
<circle cx="523.5" cy="362.31" r="2.95" fill="#009AFA" stroke="#000" stroke-width="1.15"/>
<circle cx="551.4" cy="396.95" r="2.95" fill="#009AFA" stroke="#000" stroke-width="1.15"/>
<circle cx="579.3" cy="444.45" r="2.95" fill="#009AFA" stroke="#000" stroke-width="1.15"/>
<circle cx="607.2" cy="503.86" r="2.95" fill="#009AFA" stroke="#000" stroke-width="1.15"/>
<rect x="464.75" y="330.76" width="5.9" height="5.9" fill="#E36F47" stroke="#000" stroke-width="1.15"/>
<rect x="492.65" y="333.82" width="5.9" height="5.9" fill="#E36F47" stroke="#000" stroke-width="1.15"/>
<rect x="520.55" y="338.84" width="5.9" height="5.9" fill="#E36F47" stroke="#000" stroke-width="1.15"/>
<rect x="548.45" y="353.74" width="5.9" height="5.9" fill="#E36F47" stroke="#000" stroke-width="1.15"/>
<rect x="576.35" y="376.38" width="5.9" height="5.9" fill="#E36F47" stroke="#000" stroke-width="1.15"/>
<rect x="604.25" y="404.56" width="5.9" height="5.9" fill="#E36F47" stroke="#000" stroke-width="1.15"/>
</g>
<path d="M467.7,541.4 V538.1 M495.6,541.4 V538.1 M523.5,541.4 V538.1 M551.4,541.4 V538.1 M579.3,541.4 V538.1 M607.2,541.4 V538.1 M463.6,541.4 H466.9 M463.6,498.84 H466.9 M463.6,456.28 H466.9 M463.6,413.72 H466.9 M463.6,371.16 H466.9 M463.6,328.6 H466.9 M463.6,532.89 H465.6 M463.6,524.38 H465.6 M463.6,515.86 H465.6 M463.6,507.35 H465.6 M463.6,490.33 H465.6 M463.6,481.82 H465.6 M463.6,473.3 H465.6 M463.6,464.79 H465.6 M463.6,447.77 H465.6 M463.6,439.26 H465.6 M463.6,430.74 H465.6 M463.6,422.23 H465.6 M463.6,405.21 H465.6 M463.6,396.7 H465.6 M463.6,388.18 H465.6 M463.6,379.67 H465.6 M463.6,362.65 H465.6 M463.6,354.14 H465.6 M463.6,345.62 H465.6 M463.6,337.11 H465.6" stroke="#000" stroke-width="0.8" fill="none"/>
<rect x="463.6" y="328.6" width="148.1" height="212.8" fill="none" stroke="#000" stroke-width="0.8"/>
<text x="467.7" y="555.4" font-family="Liberation Sans, sans-serif" font-size="7.9" text-anchor="middle" textLength="10.3" lengthAdjust="spacingAndGlyphs" fill="#111" stroke="#111" stroke-width="0.25">0.0</text>
<text x="495.6" y="555.4" font-family="Liberation Sans, sans-serif" font-size="7.9" text-anchor="middle" textLength="10.3" lengthAdjust="spacingAndGlyphs" fill="#111" stroke="#111" stroke-width="0.25">0.2</text>
<text x="523.5" y="555.4" font-family="Liberation Sans, sans-serif" font-size="7.9" text-anchor="middle" textLength="10.3" lengthAdjust="spacingAndGlyphs" fill="#111" stroke="#111" stroke-width="0.25">0.4</text>
<text x="551.4" y="555.4" font-family="Liberation Sans, sans-serif" font-size="7.9" text-anchor="middle" textLength="10.3" lengthAdjust="spacingAndGlyphs" fill="#111" stroke="#111" stroke-width="0.25">0.6</text>
<text x="579.3" y="555.4" font-family="Liberation Sans, sans-serif" font-size="7.9" text-anchor="middle" textLength="10.3" lengthAdjust="spacingAndGlyphs" fill="#111" stroke="#111" stroke-width="0.25">0.8</text>
<text x="607.2" y="555.4" font-family="Liberation Sans, sans-serif" font-size="7.9" text-anchor="middle" textLength="10.3" lengthAdjust="spacingAndGlyphs" fill="#111" stroke="#111" stroke-width="0.25">1.0</text>
<text x="456.6" y="544.3" font-family="Liberation Sans, sans-serif" font-size="8.6" text-anchor="end" textLength="9.6" lengthAdjust="spacingAndGlyphs" fill="#111" stroke="#111" stroke-width="0.25">75</text>
<text x="456.6" y="501.74" font-family="Liberation Sans, sans-serif" font-size="8.6" text-anchor="end" textLength="9.6" lengthAdjust="spacingAndGlyphs" fill="#111" stroke="#111" stroke-width="0.25">80</text>
<text x="456.6" y="459.18" font-family="Liberation Sans, sans-serif" font-size="8.6" text-anchor="end" textLength="9.6" lengthAdjust="spacingAndGlyphs" fill="#111" stroke="#111" stroke-width="0.25">85</text>
<text x="456.6" y="416.62" font-family="Liberation Sans, sans-serif" font-size="8.6" text-anchor="end" textLength="9.6" lengthAdjust="spacingAndGlyphs" fill="#111" stroke="#111" stroke-width="0.25">90</text>
<text x="456.6" y="374.06" font-family="Liberation Sans, sans-serif" font-size="8.6" text-anchor="end" textLength="9.6" lengthAdjust="spacingAndGlyphs" fill="#111" stroke="#111" stroke-width="0.25">95</text>
<text x="456.6" y="331.5" font-family="Liberation Sans, sans-serif" font-size="8.6" text-anchor="end" textLength="13.5" lengthAdjust="spacingAndGlyphs" fill="#111" stroke="#111" stroke-width="0.25">100</text>
</g>
<g>
<clipPath id="cpb"><rect x="678.6" y="39.6" width="150.8" height="214.2"/></clipPath>
<path d="M682.9,39.6 V253.8 M698.66,39.6 V253.8 M714.42,39.6 V253.8 M745.94,39.6 V253.8 M777.46,39.6 V253.8 M808.98,39.6 V253.8 M824.74,39.6 V253.8 M678.6,233.05 H829.4 M678.6,196.7 H829.4 M678.6,160.35 H829.4 M678.6,124 H829.4 M678.6,87.65 H829.4 M678.6,51.3 H829.4" stroke="#000" stroke-opacity="0.075" stroke-width="0.85" fill="none"/>
<g clip-path="url(#cpb)">
<polyline points="682.9,45.81 698.66,64.2 714.42,84.67 745.94,129.82 777.46,177.51 808.98,225.02 824.74,247.59" fill="none" stroke="#3EA44E" stroke-width="2.1" stroke-linejoin="round" stroke-linecap="butt"/>
</g>
<g clip-path="url(#cpb)">
<circle cx="682.9" cy="45.81" r="2.15" fill="#3EA44E" stroke="#000" stroke-width="1.05"/>
<circle cx="698.66" cy="64.2" r="2.15" fill="#3EA44E" stroke="#000" stroke-width="1.05"/>
<circle cx="714.42" cy="84.67" r="2.15" fill="#3EA44E" stroke="#000" stroke-width="1.05"/>
<circle cx="745.94" cy="129.82" r="2.15" fill="#3EA44E" stroke="#000" stroke-width="1.05"/>
<circle cx="777.46" cy="177.51" r="2.15" fill="#3EA44E" stroke="#000" stroke-width="1.05"/>
<circle cx="808.98" cy="225.02" r="2.15" fill="#3EA44E" stroke="#000" stroke-width="1.05"/>
<circle cx="824.74" cy="247.59" r="2.15" fill="#3EA44E" stroke="#000" stroke-width="1.05"/>
</g>
<path d="M682.9,253.8 V250.5 M698.66,253.8 V250.5 M714.42,253.8 V250.5 M745.94,253.8 V250.5 M777.46,253.8 V250.5 M808.98,253.8 V250.5 M824.74,253.8 V250.5 M678.6,233.05 H681.9 M678.6,196.7 H681.9 M678.6,160.35 H681.9 M678.6,124 H681.9 M678.6,87.65 H681.9 M678.6,51.3 H681.9 M678.6,247.59 H680.6 M678.6,240.32 H680.6 M678.6,225.78 H680.6 M678.6,218.51 H680.6 M678.6,211.24 H680.6 M678.6,203.97 H680.6 M678.6,189.43 H680.6 M678.6,182.16 H680.6 M678.6,174.89 H680.6 M678.6,167.62 H680.6 M678.6,153.08 H680.6 M678.6,145.81 H680.6 M678.6,138.54 H680.6 M678.6,131.27 H680.6 M678.6,116.73 H680.6 M678.6,109.46 H680.6 M678.6,102.19 H680.6 M678.6,94.92 H680.6 M678.6,80.38 H680.6 M678.6,73.11 H680.6 M678.6,65.84 H680.6 M678.6,58.57 H680.6 M678.6,44.03 H680.6" stroke="#000" stroke-width="0.8" fill="none"/>
<rect x="678.6" y="39.6" width="150.8" height="214.2" fill="none" stroke="#000" stroke-width="0.8"/>
<text x="681.8" y="267.8" font-family="Liberation Sans, sans-serif" font-size="7.9" text-anchor="middle" textLength="14.5" lengthAdjust="spacingAndGlyphs" fill="#111" stroke="#111" stroke-width="0.25">0.00</text>
<text x="697.56" y="267.8" font-family="Liberation Sans, sans-serif" font-size="7.9" text-anchor="middle" textLength="14.5" lengthAdjust="spacingAndGlyphs" fill="#111" stroke="#111" stroke-width="0.25">0.02</text>
<text x="713.32" y="267.8" font-family="Liberation Sans, sans-serif" font-size="7.9" text-anchor="middle" textLength="14.5" lengthAdjust="spacingAndGlyphs" fill="#111" stroke="#111" stroke-width="0.25">0.04</text>
<text x="744.84" y="267.8" font-family="Liberation Sans, sans-serif" font-size="7.9" text-anchor="middle" textLength="14.5" lengthAdjust="spacingAndGlyphs" fill="#111" stroke="#111" stroke-width="0.25">0.08</text>
<text x="776.36" y="267.8" font-family="Liberation Sans, sans-serif" font-size="7.9" text-anchor="middle" textLength="14.5" lengthAdjust="spacingAndGlyphs" fill="#111" stroke="#111" stroke-width="0.25">0.12</text>
<text x="807.88" y="267.8" font-family="Liberation Sans, sans-serif" font-size="7.9" text-anchor="middle" textLength="14.5" lengthAdjust="spacingAndGlyphs" fill="#111" stroke="#111" stroke-width="0.25">0.16</text>
<text x="823.64" y="267.8" font-family="Liberation Sans, sans-serif" font-size="7.9" text-anchor="middle" textLength="14.5" lengthAdjust="spacingAndGlyphs" fill="#111" stroke="#111" stroke-width="0.25">0.18</text>
<text x="671.6" y="235.95" font-family="Liberation Sans, sans-serif" font-size="8.6" text-anchor="end" textLength="16.3" lengthAdjust="spacingAndGlyphs" fill="#111" stroke="#111" stroke-width="0.25">0.01</text>
<text x="671.6" y="199.6" font-family="Liberation Sans, sans-serif" font-size="8.6" text-anchor="end" textLength="16.3" lengthAdjust="spacingAndGlyphs" fill="#111" stroke="#111" stroke-width="0.25">0.02</text>
<text x="671.6" y="163.25" font-family="Liberation Sans, sans-serif" font-size="8.6" text-anchor="end" textLength="16.3" lengthAdjust="spacingAndGlyphs" fill="#111" stroke="#111" stroke-width="0.25">0.03</text>
<text x="671.6" y="126.9" font-family="Liberation Sans, sans-serif" font-size="8.6" text-anchor="end" textLength="16.3" lengthAdjust="spacingAndGlyphs" fill="#111" stroke="#111" stroke-width="0.25">0.04</text>
<text x="671.6" y="90.55" font-family="Liberation Sans, sans-serif" font-size="8.6" text-anchor="end" textLength="16.3" lengthAdjust="spacingAndGlyphs" fill="#111" stroke="#111" stroke-width="0.25">0.05</text>
<text x="671.6" y="54.2" font-family="Liberation Sans, sans-serif" font-size="8.6" text-anchor="end" textLength="16.3" lengthAdjust="spacingAndGlyphs" fill="#111" stroke="#111" stroke-width="0.25">0.06</text>
</g>
<g>
<clipPath id="cpd"><rect x="677.4" y="328.7" width="150.35" height="212.55"/></clipPath>
<path d="M681.7,328.7 V541.25 M709.98,328.7 V541.25 M738.26,328.7 V541.25 M766.54,328.7 V541.25 M794.82,328.7 V541.25 M823.1,328.7 V541.25 M677.4,510.4 H827.75 M677.4,476.88 H827.75 M677.4,443.36 H827.75 M677.4,409.84 H827.75 M677.4,376.32 H827.75 M677.4,342.8 H827.75" stroke="#000" stroke-opacity="0.075" stroke-width="0.85" fill="none"/>
<g clip-path="url(#cpd)">
<polyline points="681.7,334.69 709.98,346.08 738.26,383.69 766.54,424.39 794.82,466.09 823.1,535.61" fill="none" stroke="#3EA44E" stroke-width="2.1" stroke-linejoin="round" stroke-linecap="butt"/>
</g>
<g clip-path="url(#cpd)">
<circle cx="681.7" cy="334.69" r="2.15" fill="#3EA44E" stroke="#000" stroke-width="1.05"/>
<circle cx="709.98" cy="346.08" r="2.15" fill="#3EA44E" stroke="#000" stroke-width="1.05"/>
<circle cx="738.26" cy="383.69" r="2.15" fill="#3EA44E" stroke="#000" stroke-width="1.05"/>
<circle cx="766.54" cy="424.39" r="2.15" fill="#3EA44E" stroke="#000" stroke-width="1.05"/>
<circle cx="794.82" cy="466.09" r="2.15" fill="#3EA44E" stroke="#000" stroke-width="1.05"/>
<circle cx="823.1" cy="535.61" r="2.15" fill="#3EA44E" stroke="#000" stroke-width="1.05"/>
</g>
<path d="M681.7,541.25 V537.95 M709.98,541.25 V537.95 M738.26,541.25 V537.95 M766.54,541.25 V537.95 M794.82,541.25 V537.95 M823.1,541.25 V537.95 M677.4,510.4 H680.7 M677.4,476.88 H680.7 M677.4,443.36 H680.7 M677.4,409.84 H680.7 M677.4,376.32 H680.7 M677.4,342.8 H680.7 M677.4,537.22 H679.4 M677.4,530.51 H679.4 M677.4,523.81 H679.4 M677.4,517.1 H679.4 M677.4,503.7 H679.4 M677.4,496.99 H679.4 M677.4,490.29 H679.4 M677.4,483.58 H679.4 M677.4,470.18 H679.4 M677.4,463.47 H679.4 M677.4,456.77 H679.4 M677.4,450.06 H679.4 M677.4,436.66 H679.4 M677.4,429.95 H679.4 M677.4,423.25 H679.4 M677.4,416.54 H679.4 M677.4,403.14 H679.4 M677.4,396.43 H679.4 M677.4,389.73 H679.4 M677.4,383.02 H679.4 M677.4,369.62 H679.4 M677.4,362.91 H679.4 M677.4,356.21 H679.4 M677.4,349.5 H679.4 M677.4,336.1 H679.4 M677.4,329.39 H679.4" stroke="#000" stroke-width="0.8" fill="none"/>
<rect x="677.4" y="328.7" width="150.35" height="212.55" fill="none" stroke="#000" stroke-width="0.8"/>
<text x="681.7" y="555.25" font-family="Liberation Sans, sans-serif" font-size="7.9" text-anchor="middle" textLength="10.3" lengthAdjust="spacingAndGlyphs" fill="#111" stroke="#111" stroke-width="0.25">0.0</text>
<text x="709.98" y="555.25" font-family="Liberation Sans, sans-serif" font-size="7.9" text-anchor="middle" textLength="10.3" lengthAdjust="spacingAndGlyphs" fill="#111" stroke="#111" stroke-width="0.25">0.2</text>
<text x="738.26" y="555.25" font-family="Liberation Sans, sans-serif" font-size="7.9" text-anchor="middle" textLength="10.3" lengthAdjust="spacingAndGlyphs" fill="#111" stroke="#111" stroke-width="0.25">0.4</text>
<text x="766.54" y="555.25" font-family="Liberation Sans, sans-serif" font-size="7.9" text-anchor="middle" textLength="10.3" lengthAdjust="spacingAndGlyphs" fill="#111" stroke="#111" stroke-width="0.25">0.6</text>
<text x="794.82" y="555.25" font-family="Liberation Sans, sans-serif" font-size="7.9" text-anchor="middle" textLength="10.3" lengthAdjust="spacingAndGlyphs" fill="#111" stroke="#111" stroke-width="0.25">0.8</text>
<text x="823.1" y="555.25" font-family="Liberation Sans, sans-serif" font-size="7.9" text-anchor="middle" textLength="10.3" lengthAdjust="spacingAndGlyphs" fill="#111" stroke="#111" stroke-width="0.25">1.0</text>
<text x="670.4" y="513.3" font-family="Liberation Sans, sans-serif" font-size="8.6" text-anchor="end" textLength="11.3" lengthAdjust="spacingAndGlyphs" fill="#111" stroke="#111" stroke-width="0.25">0.5</text>
<text x="670.4" y="479.78" font-family="Liberation Sans, sans-serif" font-size="8.6" text-anchor="end" textLength="11.3" lengthAdjust="spacingAndGlyphs" fill="#111" stroke="#111" stroke-width="0.25">1.0</text>
<text x="670.4" y="446.26" font-family="Liberation Sans, sans-serif" font-size="8.6" text-anchor="end" textLength="11.3" lengthAdjust="spacingAndGlyphs" fill="#111" stroke="#111" stroke-width="0.25">1.5</text>
<text x="670.4" y="412.74" font-family="Liberation Sans, sans-serif" font-size="8.6" text-anchor="end" textLength="11.3" lengthAdjust="spacingAndGlyphs" fill="#111" stroke="#111" stroke-width="0.25">2.0</text>
<text x="670.4" y="379.22" font-family="Liberation Sans, sans-serif" font-size="8.6" text-anchor="end" textLength="11.3" lengthAdjust="spacingAndGlyphs" fill="#111" stroke="#111" stroke-width="0.25">2.5</text>
<text x="670.4" y="345.7" font-family="Liberation Sans, sans-serif" font-size="8.6" text-anchor="end" textLength="11.3" lengthAdjust="spacingAndGlyphs" fill="#111" stroke="#111" stroke-width="0.25">3.0</text>
</g>
<rect x="59" y="218.4" width="99.8" height="27.9" fill="#fff" stroke="#000" stroke-width="1"/>
<path d="M59.3,227.6 H72.1" stroke="#009AFA" stroke-width="2.5"/>
<circle cx="65.6" cy="227.6" r="3.05" fill="#009AFA" stroke="#000" stroke-width="1.15"/>
<text x="72.2" y="230.3" font-family="Liberation Sans, sans-serif" font-size="8.5" text-anchor="start" textLength="71.6" lengthAdjust="spacingAndGlyphs" fill="#111" stroke="#111" stroke-width="0.2">Laughlin State at</text>
<text x="146.2" y="230.7" font-family="Liberation Serif, serif" font-size="9.2" text-anchor="start" textLength="4.8" lengthAdjust="spacingAndGlyphs" fill="#222">Γ</text>
<path d="M59.3,237 H72.1" stroke="#E36F47" stroke-width="2.5"/>
<rect x="62.65" y="234.05" width="5.9" height="5.9" fill="#E36F47" stroke="#000" stroke-width="1.15"/>
<text x="72.2" y="239.7" font-family="Liberation Sans, sans-serif" font-size="8.5" text-anchor="start" textLength="77" lengthAdjust="spacingAndGlyphs" fill="#111" stroke="#111" stroke-width="0.2">Projective State at</text>
<text x="151.6" y="240.1" font-family="Liberation Serif, serif" font-size="9.2" text-anchor="start" textLength="4.8" lengthAdjust="spacingAndGlyphs" fill="#222">Γ</text>
<rect x="262.7" y="217.4" width="119.8" height="28.8" fill="#fff" stroke="#000" stroke-width="1"/>
<path d="M263,227.3 H275.8" stroke="#009AFA" stroke-width="2.5"/>
<circle cx="269.3" cy="227.3" r="3.05" fill="#009AFA" stroke="#000" stroke-width="1.15"/>
<text x="275.9" y="230" font-family="Liberation Sans, sans-serif" font-size="8.5" text-anchor="start" textLength="71" lengthAdjust="spacingAndGlyphs" fill="#111" stroke="#111" stroke-width="0.2">Laughlin State at</text>
<text x="349.3" y="230.3" font-family="Liberation Serif, serif" font-size="9.4" text-anchor="start" font-weight="bold" textLength="7.5" lengthAdjust="spacingAndGlyphs" fill="#222">G</text>
<text x="357.3" y="232.5" font-family="Liberation Serif, serif" font-size="6" text-anchor="start" textLength="4.5" lengthAdjust="spacingAndGlyphs" fill="#3a3a3a">1,</text>
<text x="361.9" y="232.5" font-family="Liberation Serif, serif" font-size="6" text-anchor="start" font-style="italic" textLength="3.6" lengthAdjust="spacingAndGlyphs" fill="#3a3a3a">e</text>
<path d="M370.4,223.2 L367.2,232.2" fill="none" stroke="#222" stroke-width="0.8"/>
<text x="370.7" y="230.3" font-family="Liberation Serif, serif" font-size="9.2" text-anchor="start" textLength="3.9" lengthAdjust="spacingAndGlyphs" fill="#111" stroke="#111" stroke-width="0.15">3</text>
<path d="M263,236.7 H275.8" stroke="#E36F47" stroke-width="2.5"/>
<rect x="266.35" y="233.75" width="5.9" height="5.9" fill="#E36F47" stroke="#000" stroke-width="1.15"/>
<text x="275.9" y="239.4" font-family="Liberation Sans, sans-serif" font-size="8.5" text-anchor="start" textLength="76" lengthAdjust="spacingAndGlyphs" fill="#111" stroke="#111" stroke-width="0.2">Projective State at</text>
<text x="354.3" y="239.7" font-family="Liberation Serif, serif" font-size="9.4" text-anchor="start" font-weight="bold" textLength="7.5" lengthAdjust="spacingAndGlyphs" fill="#222">G</text>
<text x="362.3" y="241.9" font-family="Liberation Serif, serif" font-size="6" text-anchor="start" textLength="4.5" lengthAdjust="spacingAndGlyphs" fill="#3a3a3a">1,</text>
<text x="366.9" y="241.9" font-family="Liberation Serif, serif" font-size="6" text-anchor="start" font-style="italic" textLength="3.6" lengthAdjust="spacingAndGlyphs" fill="#3a3a3a">e</text>
<path d="M375.4,232.6 L372.2,241.6" fill="none" stroke="#222" stroke-width="0.8"/>
<text x="375.7" y="239.7" font-family="Liberation Serif, serif" font-size="9.2" text-anchor="start" textLength="3.9" lengthAdjust="spacingAndGlyphs" fill="#111" stroke="#111" stroke-width="0.15">3</text>
<rect x="468" y="217.2" width="124.6" height="28.8" fill="#fff" stroke="#000" stroke-width="1"/>
<path d="M468.3,227.3 H481.1" stroke="#009AFA" stroke-width="2.5"/>
<circle cx="474.6" cy="227.3" r="3.05" fill="#009AFA" stroke="#000" stroke-width="1.15"/>
<text x="481.2" y="230" font-family="Liberation Sans, sans-serif" font-size="8.5" text-anchor="start" textLength="71.2" lengthAdjust="spacingAndGlyphs" fill="#111" stroke="#111" stroke-width="0.2">Laughlin State at</text>
<text x="555.8" y="230.3" font-family="Liberation Serif, serif" font-size="9.2" text-anchor="start" textLength="3.7" lengthAdjust="spacingAndGlyphs" fill="#111" stroke="#111" stroke-width="0.15">2</text>
<text x="559.5" y="230.3" font-family="Liberation Serif, serif" font-size="9.4" text-anchor="start" font-weight="bold" textLength="7.5" lengthAdjust="spacingAndGlyphs" fill="#222">G</text>
<text x="567.5" y="232.5" font-family="Liberation Serif, serif" font-size="6" text-anchor="start" textLength="4.5" lengthAdjust="spacingAndGlyphs" fill="#3a3a3a">1,</text>
<text x="572.1" y="232.5" font-family="Liberation Serif, serif" font-size="6" text-anchor="start" font-style="italic" textLength="3.6" lengthAdjust="spacingAndGlyphs" fill="#3a3a3a">e</text>
<path d="M580.6,223.2 L577.4,232.2" fill="none" stroke="#222" stroke-width="0.8"/>
<text x="580.9" y="230.3" font-family="Liberation Serif, serif" font-size="9.2" text-anchor="start" textLength="3.9" lengthAdjust="spacingAndGlyphs" fill="#111" stroke="#111" stroke-width="0.15">3</text>
<path d="M468.3,236.7 H481.1" stroke="#E36F47" stroke-width="2.5"/>
<rect x="471.65" y="233.75" width="5.9" height="5.9" fill="#E36F47" stroke="#000" stroke-width="1.15"/>
<text x="481.2" y="239.4" font-family="Liberation Sans, sans-serif" font-size="8.5" text-anchor="start" textLength="75.8" lengthAdjust="spacingAndGlyphs" fill="#111" stroke="#111" stroke-width="0.2">Projective State at</text>
<text x="560.4" y="239.7" font-family="Liberation Serif, serif" font-size="9.2" text-anchor="start" textLength="3.7" lengthAdjust="spacingAndGlyphs" fill="#111" stroke="#111" stroke-width="0.15">2</text>
<text x="564.1" y="239.7" font-family="Liberation Serif, serif" font-size="9.4" text-anchor="start" font-weight="bold" textLength="7.5" lengthAdjust="spacingAndGlyphs" fill="#222">G</text>
<text x="572.1" y="241.9" font-family="Liberation Serif, serif" font-size="6" text-anchor="start" textLength="4.5" lengthAdjust="spacingAndGlyphs" fill="#3a3a3a">1,</text>
<text x="576.7" y="241.9" font-family="Liberation Serif, serif" font-size="6" text-anchor="start" font-style="italic" textLength="3.6" lengthAdjust="spacingAndGlyphs" fill="#3a3a3a">e</text>
<path d="M585.2,232.6 L582,241.6" fill="none" stroke="#222" stroke-width="0.8"/>
<text x="585.5" y="239.7" font-family="Liberation Serif, serif" font-size="9.2" text-anchor="start" textLength="3.9" lengthAdjust="spacingAndGlyphs" fill="#111" stroke="#111" stroke-width="0.15">3</text>
<rect x="59" y="506.4" width="99.8" height="27.9" fill="#fff" stroke="#000" stroke-width="1"/>
<path d="M59.3,515.6 H72.1" stroke="#009AFA" stroke-width="2.5"/>
<circle cx="65.6" cy="515.6" r="3.05" fill="#009AFA" stroke="#000" stroke-width="1.15"/>
<text x="72.2" y="518.3" font-family="Liberation Sans, sans-serif" font-size="8.5" text-anchor="start" textLength="71.6" lengthAdjust="spacingAndGlyphs" fill="#111" stroke="#111" stroke-width="0.2">Laughlin State at</text>
<text x="146.2" y="518.7" font-family="Liberation Serif, serif" font-size="9.2" text-anchor="start" textLength="4.8" lengthAdjust="spacingAndGlyphs" fill="#222">Γ</text>
<path d="M59.3,525 H72.1" stroke="#E36F47" stroke-width="2.5"/>
<rect x="62.65" y="522.05" width="5.9" height="5.9" fill="#E36F47" stroke="#000" stroke-width="1.15"/>
<text x="72.2" y="527.7" font-family="Liberation Sans, sans-serif" font-size="8.5" text-anchor="start" textLength="77" lengthAdjust="spacingAndGlyphs" fill="#111" stroke="#111" stroke-width="0.2">Projective State at</text>
<text x="151.6" y="528.1" font-family="Liberation Serif, serif" font-size="9.2" text-anchor="start" textLength="4.8" lengthAdjust="spacingAndGlyphs" fill="#222">Γ</text>
<rect x="262.7" y="505.4" width="119.8" height="28.8" fill="#fff" stroke="#000" stroke-width="1"/>
<path d="M263,515.3 H275.8" stroke="#009AFA" stroke-width="2.5"/>
<circle cx="269.3" cy="515.3" r="3.05" fill="#009AFA" stroke="#000" stroke-width="1.15"/>
<text x="275.9" y="518" font-family="Liberation Sans, sans-serif" font-size="8.5" text-anchor="start" textLength="71" lengthAdjust="spacingAndGlyphs" fill="#111" stroke="#111" stroke-width="0.2">Laughlin State at</text>
<text x="349.3" y="518.3" font-family="Liberation Serif, serif" font-size="9.4" text-anchor="start" font-weight="bold" textLength="7.5" lengthAdjust="spacingAndGlyphs" fill="#222">G</text>
<text x="357.3" y="520.5" font-family="Liberation Serif, serif" font-size="6" text-anchor="start" textLength="4.5" lengthAdjust="spacingAndGlyphs" fill="#3a3a3a">1,</text>
<text x="361.9" y="520.5" font-family="Liberation Serif, serif" font-size="6" text-anchor="start" font-style="italic" textLength="3.6" lengthAdjust="spacingAndGlyphs" fill="#3a3a3a">e</text>
<path d="M370.4,511.2 L367.2,520.2" fill="none" stroke="#222" stroke-width="0.8"/>
<text x="370.7" y="518.3" font-family="Liberation Serif, serif" font-size="9.2" text-anchor="start" textLength="3.9" lengthAdjust="spacingAndGlyphs" fill="#111" stroke="#111" stroke-width="0.15">3</text>
<path d="M263,524.7 H275.8" stroke="#E36F47" stroke-width="2.5"/>
<rect x="266.35" y="521.75" width="5.9" height="5.9" fill="#E36F47" stroke="#000" stroke-width="1.15"/>
<text x="275.9" y="527.4" font-family="Liberation Sans, sans-serif" font-size="8.5" text-anchor="start" textLength="76" lengthAdjust="spacingAndGlyphs" fill="#111" stroke="#111" stroke-width="0.2">Projective State at</text>
<text x="354.3" y="527.7" font-family="Liberation Serif, serif" font-size="9.4" text-anchor="start" font-weight="bold" textLength="7.5" lengthAdjust="spacingAndGlyphs" fill="#222">G</text>
<text x="362.3" y="529.9" font-family="Liberation Serif, serif" font-size="6" text-anchor="start" textLength="4.5" lengthAdjust="spacingAndGlyphs" fill="#3a3a3a">1,</text>
<text x="366.9" y="529.9" font-family="Liberation Serif, serif" font-size="6" text-anchor="start" font-style="italic" textLength="3.6" lengthAdjust="spacingAndGlyphs" fill="#3a3a3a">e</text>
<path d="M375.4,520.6 L372.2,529.6" fill="none" stroke="#222" stroke-width="0.8"/>
<text x="375.7" y="527.7" font-family="Liberation Serif, serif" font-size="9.2" text-anchor="start" textLength="3.9" lengthAdjust="spacingAndGlyphs" fill="#111" stroke="#111" stroke-width="0.15">3</text>
<rect x="468" y="505.2" width="124.6" height="28.8" fill="#fff" stroke="#000" stroke-width="1"/>
<path d="M468.3,515.3 H481.1" stroke="#009AFA" stroke-width="2.5"/>
<circle cx="474.6" cy="515.3" r="3.05" fill="#009AFA" stroke="#000" stroke-width="1.15"/>
<text x="481.2" y="518" font-family="Liberation Sans, sans-serif" font-size="8.5" text-anchor="start" textLength="71.2" lengthAdjust="spacingAndGlyphs" fill="#111" stroke="#111" stroke-width="0.2">Laughlin State at</text>
<text x="555.8" y="518.3" font-family="Liberation Serif, serif" font-size="9.2" text-anchor="start" textLength="3.7" lengthAdjust="spacingAndGlyphs" fill="#111" stroke="#111" stroke-width="0.15">2</text>
<text x="559.5" y="518.3" font-family="Liberation Serif, serif" font-size="9.4" text-anchor="start" font-weight="bold" textLength="7.5" lengthAdjust="spacingAndGlyphs" fill="#222">G</text>
<text x="567.5" y="520.5" font-family="Liberation Serif, serif" font-size="6" text-anchor="start" textLength="4.5" lengthAdjust="spacingAndGlyphs" fill="#3a3a3a">1,</text>
<text x="572.1" y="520.5" font-family="Liberation Serif, serif" font-size="6" text-anchor="start" font-style="italic" textLength="3.6" lengthAdjust="spacingAndGlyphs" fill="#3a3a3a">e</text>
<path d="M580.6,511.2 L577.4,520.2" fill="none" stroke="#222" stroke-width="0.8"/>
<text x="580.9" y="518.3" font-family="Liberation Serif, serif" font-size="9.2" text-anchor="start" textLength="3.9" lengthAdjust="spacingAndGlyphs" fill="#111" stroke="#111" stroke-width="0.15">3</text>
<path d="M468.3,524.7 H481.1" stroke="#E36F47" stroke-width="2.5"/>
<rect x="471.65" y="521.75" width="5.9" height="5.9" fill="#E36F47" stroke="#000" stroke-width="1.15"/>
<text x="481.2" y="527.4" font-family="Liberation Sans, sans-serif" font-size="8.5" text-anchor="start" textLength="75.8" lengthAdjust="spacingAndGlyphs" fill="#111" stroke="#111" stroke-width="0.2">Projective State at</text>
<text x="560.4" y="527.7" font-family="Liberation Serif, serif" font-size="9.2" text-anchor="start" textLength="3.7" lengthAdjust="spacingAndGlyphs" fill="#111" stroke="#111" stroke-width="0.15">2</text>
<text x="564.1" y="527.7" font-family="Liberation Serif, serif" font-size="9.4" text-anchor="start" font-weight="bold" textLength="7.5" lengthAdjust="spacingAndGlyphs" fill="#222">G</text>
<text x="572.1" y="529.9" font-family="Liberation Serif, serif" font-size="6" text-anchor="start" textLength="4.5" lengthAdjust="spacingAndGlyphs" fill="#3a3a3a">1,</text>
<text x="576.7" y="529.9" font-family="Liberation Serif, serif" font-size="6" text-anchor="start" font-style="italic" textLength="3.6" lengthAdjust="spacingAndGlyphs" fill="#3a3a3a">e</text>
<path d="M585.2,520.6 L582,529.6" fill="none" stroke="#222" stroke-width="0.8"/>
<text x="585.5" y="527.7" font-family="Liberation Serif, serif" font-size="9.2" text-anchor="start" textLength="3.9" lengthAdjust="spacingAndGlyphs" fill="#111" stroke="#111" stroke-width="0.15">3</text>
<g transform="translate(21.9,147.2) rotate(-90)">
<text x="0" y="3.5" font-family="Liberation Sans, sans-serif" font-size="10.2" text-anchor="middle" textLength="104" lengthAdjust="spacingAndGlyphs" fill="#111" stroke="#111" stroke-width="0.15">Overlap with ED [%]</text>
</g>
<g transform="translate(21.9,435.2) rotate(-90)">
<text x="0" y="3.5" font-family="Liberation Sans, sans-serif" font-size="10.2" text-anchor="middle" textLength="104" lengthAdjust="spacingAndGlyphs" fill="#111" stroke="#111" stroke-width="0.15">Overlap with ED [%]</text>
</g>
<g transform="translate(650.9,435.4) rotate(-90)">
<text x="0" y="3.5" font-family="Liberation Sans, sans-serif" font-size="10.2" text-anchor="middle" textLength="115" lengthAdjust="spacingAndGlyphs" fill="#111" stroke="#111" stroke-width="0.15">Many-body Gap [meV]</text>
</g>
<g transform="translate(645.6,205.6) rotate(-90)">
<text x="0" y="3.3" font-family="Liberation Sans, sans-serif" font-size="10.6" text-anchor="start" textLength="80.6" lengthAdjust="spacingAndGlyphs" fill="#111" stroke="#111" stroke-width="0.15">Many-body Gap</text>
<path d="M87.2,-5 H85.7 V5 H87.2" fill="none" stroke="#222" stroke-width="0.75"/>
<text x="87.2" y="3.3" font-family="Liberation Serif, serif" font-size="11" text-anchor="start" font-style="italic" textLength="4.6" lengthAdjust="spacingAndGlyphs" fill="#222">e</text>
<text x="92.2" y="0.3" font-family="Liberation Serif, serif" font-size="7" text-anchor="start" fill="#222">2</text>
<path d="M100.9,-5 L96.2,5.2" fill="none" stroke="#222" stroke-width="0.6"/>
<text x="101.4" y="3.3" font-family="Liberation Serif, serif" font-size="11" text-anchor="start" font-style="italic" textLength="3.9" lengthAdjust="spacingAndGlyphs" fill="#222">ε</text>
<text x="105.3" y="3.3" font-family="Liberation Serif, serif" font-size="11.2" text-anchor="start" font-style="italic" textLength="2.9" lengthAdjust="spacingAndGlyphs" fill="#222">l</text>
<text x="108.6" y="5.2" font-family="Liberation Serif, serif" font-size="7.2" text-anchor="start" font-style="italic" textLength="3.2" lengthAdjust="spacingAndGlyphs" fill="#222">e</text>
<path d="M113.9,-5 H115.4 V5 H113.9" fill="none" stroke="#222" stroke-width="0.75"/>
</g>
<text x="100.7" y="280.1" font-family="Liberation Serif, serif" font-size="11.8" text-anchor="start" font-style="italic" textLength="6.9" lengthAdjust="spacingAndGlyphs" fill="#222">V</text>
<text x="107.1" y="282" font-family="Liberation Serif, serif" font-size="7.4" text-anchor="start" textLength="6.8" lengthAdjust="spacingAndGlyphs" fill="#222">10</text>
<path d="M120.2,272.2 H118.7 V282.6 H120.2" fill="none" stroke="#8a8a8a" stroke-width="1.3"/>
<text x="120.3" y="280.1" font-family="Liberation Serif, serif" font-size="11.2" text-anchor="start" textLength="4.7" lengthAdjust="spacingAndGlyphs" fill="#222">e</text>
<text x="125.2" y="277.2" font-family="Liberation Serif, serif" font-size="7.6" text-anchor="start" fill="#222" stroke="#222" stroke-width="0.15">2</text>
<path d="M133.5,272.2 L129.4,282.6" fill="none" stroke="#222" stroke-width="0.6"/>
<text x="134.5" y="280.1" font-family="Liberation Serif, serif" font-size="11.2" text-anchor="start" font-style="italic" textLength="4.1" lengthAdjust="spacingAndGlyphs" fill="#222">ε</text>
<text x="138.6" y="280.1" font-family="Liberation Serif, serif" font-size="11.4" text-anchor="start" font-style="italic" textLength="3" lengthAdjust="spacingAndGlyphs" fill="#222">l</text>
<text x="141.9" y="282" font-family="Liberation Serif, serif" font-size="7.4" text-anchor="start" font-style="italic" textLength="3.2" lengthAdjust="spacingAndGlyphs" fill="#222">e</text>
<path d="M145.1,272.2 H146.6 V282.6 H145.1" fill="none" stroke="#222" stroke-width="0.75"/>
<text x="304.75" y="280.1" font-family="Liberation Serif, serif" font-size="11.8" text-anchor="start" font-style="italic" textLength="6.9" lengthAdjust="spacingAndGlyphs" fill="#222">V</text>
<text x="311.15" y="282" font-family="Liberation Serif, serif" font-size="7.4" text-anchor="start" textLength="6.8" lengthAdjust="spacingAndGlyphs" fill="#222">10</text>
<path d="M324.05,272.2 H322.55 V282.6 H324.05" fill="none" stroke="#222" stroke-width="0.75"/>
<text x="324.35" y="280.1" font-family="Liberation Serif, serif" font-size="11.2" text-anchor="start" font-style="italic" textLength="4.7" lengthAdjust="spacingAndGlyphs" fill="#222">e</text>
<text x="329.25" y="277.2" font-family="Liberation Serif, serif" font-size="7.6" text-anchor="start" fill="#222" stroke="#222" stroke-width="0.15">2</text>
<path d="M337.55,272.2 L333.45,282.6" fill="none" stroke="#222" stroke-width="0.6"/>
<text x="338.55" y="280.1" font-family="Liberation Serif, serif" font-size="11.2" text-anchor="start" font-style="italic" textLength="4.1" lengthAdjust="spacingAndGlyphs" fill="#222">ε</text>
<text x="342.65" y="280.1" font-family="Liberation Serif, serif" font-size="11.4" text-anchor="start" font-style="italic" textLength="3" lengthAdjust="spacingAndGlyphs" fill="#222">l</text>
<text x="345.95" y="282" font-family="Liberation Serif, serif" font-size="7.4" text-anchor="start" font-style="italic" textLength="3.2" lengthAdjust="spacingAndGlyphs" fill="#222">e</text>
<path d="M349.15,272.2 H350.65 V282.6 H349.15" fill="none" stroke="#222" stroke-width="0.75"/>
<text x="510.4" y="280.1" font-family="Liberation Serif, serif" font-size="11.8" text-anchor="start" font-style="italic" textLength="6.9" lengthAdjust="spacingAndGlyphs" fill="#222">V</text>
<text x="516.8" y="282" font-family="Liberation Serif, serif" font-size="7.4" text-anchor="start" textLength="6.8" lengthAdjust="spacingAndGlyphs" fill="#222">10</text>
<path d="M529.7,272.2 H528.2 V282.6 H529.7" fill="none" stroke="#222" stroke-width="0.75"/>
<text x="530" y="280.1" font-family="Liberation Serif, serif" font-size="11.2" text-anchor="start" font-style="italic" textLength="4.7" lengthAdjust="spacingAndGlyphs" fill="#222">e</text>
<text x="534.9" y="277.2" font-family="Liberation Serif, serif" font-size="7.6" text-anchor="start" fill="#222" stroke="#222" stroke-width="0.15">2</text>
<path d="M543.2,272.2 L539.1,282.6" fill="none" stroke="#222" stroke-width="0.6"/>
<text x="544.2" y="280.1" font-family="Liberation Serif, serif" font-size="11.2" text-anchor="start" font-style="italic" textLength="4.1" lengthAdjust="spacingAndGlyphs" fill="#222">ε</text>
<text x="548.3" y="280.1" font-family="Liberation Serif, serif" font-size="11.4" text-anchor="start" font-style="italic" textLength="3" lengthAdjust="spacingAndGlyphs" fill="#222">l</text>
<text x="551.6" y="282" font-family="Liberation Serif, serif" font-size="7.4" text-anchor="start" font-style="italic" textLength="3.2" lengthAdjust="spacingAndGlyphs" fill="#222">e</text>
<path d="M554.8,272.2 H556.3 V282.6 H554.8" fill="none" stroke="#222" stroke-width="0.75"/>
<text x="726.8" y="280.1" font-family="Liberation Serif, serif" font-size="11.8" text-anchor="start" font-style="italic" textLength="6.9" lengthAdjust="spacingAndGlyphs" fill="#222">V</text>
<text x="733.2" y="282" font-family="Liberation Serif, serif" font-size="7.4" text-anchor="start" textLength="6.8" lengthAdjust="spacingAndGlyphs" fill="#222">10</text>
<path d="M746.1,272.2 H744.6 V282.6 H746.1" fill="none" stroke="#222" stroke-width="0.75"/>
<text x="746.4" y="280.1" font-family="Liberation Serif, serif" font-size="11.2" text-anchor="start" font-style="italic" textLength="4.7" lengthAdjust="spacingAndGlyphs" fill="#222">e</text>
<text x="751.3" y="277.2" font-family="Liberation Serif, serif" font-size="7.6" text-anchor="start" fill="#222" stroke="#222" stroke-width="0.15">2</text>
<path d="M759.6,272.2 L755.5,282.6" fill="none" stroke="#222" stroke-width="0.6"/>
<text x="760.6" y="280.1" font-family="Liberation Serif, serif" font-size="11.2" text-anchor="start" font-style="italic" textLength="4.1" lengthAdjust="spacingAndGlyphs" fill="#222">ε</text>
<text x="764.7" y="280.1" font-family="Liberation Serif, serif" font-size="11.4" text-anchor="start" font-style="italic" textLength="3" lengthAdjust="spacingAndGlyphs" fill="#222">l</text>
<text x="768" y="282" font-family="Liberation Serif, serif" font-size="7.4" text-anchor="start" font-style="italic" textLength="3.2" lengthAdjust="spacingAndGlyphs" fill="#222">e</text>
<path d="M771.2,272.2 H772.7 V282.6 H771.2" fill="none" stroke="#222" stroke-width="0.75"/>
<path d="M127.79,560.46 Q128.72,560 129.18,561.37 L131.39,566.99 Q131.74,567.75 132.2,567.07 M129.76,563.04 L126.57,567.6" fill="none" stroke="#111" stroke-width="0.95" stroke-linecap="round" stroke-linejoin="round"/>
<path d="M330.29,560.46 Q331.22,560 331.68,561.37 L333.89,566.99 Q334.24,567.75 334.7,567.07 M332.26,563.04 L329.07,567.6" fill="none" stroke="#111" stroke-width="0.95" stroke-linecap="round" stroke-linejoin="round"/>
<path d="M535.51,560.58 Q536.61,560 537.16,561.73 L539.78,568.83 Q540.2,569.79 540.75,568.93 M537.85,563.84 L534.06,569.6" fill="none" stroke="#111" stroke-width="1.1" stroke-linecap="round" stroke-linejoin="round"/>
<path d="M749.61,560.58 Q750.71,560 751.26,561.73 L753.88,568.83 Q754.3,569.79 754.85,568.93 M751.95,563.84 L748.16,569.6" fill="none" stroke="#111" stroke-width="1.1" stroke-linecap="round" stroke-linejoin="round"/>
<text x="0.4" y="11.8" font-family="Liberation Sans, sans-serif" font-size="16.2" text-anchor="start" textLength="83.4" lengthAdjust="spacingAndGlyphs" fill="#111" stroke="#111" stroke-width="0.2">MLL Model :</text>
<text x="0.3" y="298.8" font-family="Liberation Sans, sans-serif" font-size="16.2" text-anchor="start" textLength="40.4" lengthAdjust="spacingAndGlyphs" fill="#111" stroke="#111" stroke-width="0.2">tMoTe</text>
<text x="40.9" y="301.6" font-family="Liberation Sans, sans-serif" font-size="11" text-anchor="start" textLength="5.6" lengthAdjust="spacingAndGlyphs" fill="#111" stroke="#111" stroke-width="0.15">2</text>
<text x="51.6" y="298.8" font-family="Liberation Sans, sans-serif" font-size="16.2" text-anchor="start" textLength="47.4" lengthAdjust="spacingAndGlyphs" fill="#111" stroke="#111" stroke-width="0.2">Model :</text>
<text x="16.6" y="31.2" font-family="Liberation Serif, serif" font-size="16.6" text-anchor="start" font-weight="bold" textLength="28" lengthAdjust="spacingAndGlyphs" fill="#111">(a1)</text>
<text x="218.7" y="31.1" font-family="Liberation Serif, serif" font-size="16.6" text-anchor="start" textLength="28.5" lengthAdjust="spacingAndGlyphs" fill="#111" stroke="#111" stroke-width="0.2">(a2)</text>
<text x="422.4" y="31.1" font-family="Liberation Serif, serif" font-size="16.6" text-anchor="start" textLength="28.5" lengthAdjust="spacingAndGlyphs" fill="#111" stroke="#111" stroke-width="0.2">(a3)</text>
<text x="638.4" y="31.1" font-family="Liberation Serif, serif" font-size="16.6" text-anchor="start" font-weight="bold" textLength="20.4" lengthAdjust="spacingAndGlyphs" fill="#111">(b)</text>
<text x="14.9" y="318.9" font-family="Liberation Serif, serif" font-size="16.6" text-anchor="start" font-weight="bold" textLength="27.7" lengthAdjust="spacingAndGlyphs" fill="#111">(c1)</text>
<text x="218.4" y="319.1" font-family="Liberation Serif, serif" font-size="16.6" text-anchor="start" textLength="27.5" lengthAdjust="spacingAndGlyphs" fill="#111" stroke="#111" stroke-width="0.4">(c2)</text>
<text x="421.4" y="319.1" font-family="Liberation Serif, serif" font-size="16.6" text-anchor="start" textLength="27.6" lengthAdjust="spacingAndGlyphs" fill="#111" stroke="#111" stroke-width="0.4">(c3)</text>
<text x="631.5" y="319.1" font-family="Liberation Serif, serif" font-size="16.6" text-anchor="start" font-weight="bold" textLength="19.9" lengthAdjust="spacingAndGlyphs" fill="#111">(d)</text>
</svg>
</body></html>
